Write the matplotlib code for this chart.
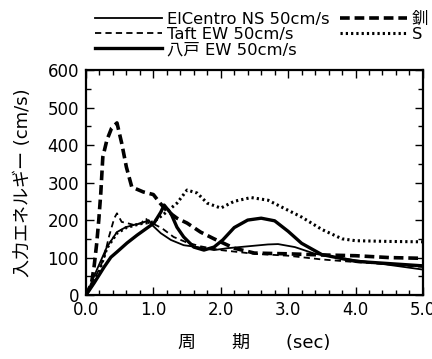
import numpy as np
import matplotlib
matplotlib.use('Agg')
import matplotlib.pyplot as plt
from matplotlib.ticker import MultipleLocator, FormatStrFormatter

plt.rcParams['font.family'] = ['DejaVu Sans', 'Noto Sans CJK JP']
plt.rcParams['lines.scale_dashes'] = False

# ElCentro NS 50cm/s (thin solid)
t_elc = [0.0, 0.05, 0.16, 0.31, 0.46, 0.59, 0.71, 0.83, 0.93, 0.98, 1.11, 1.26, 1.45, 1.65,
         1.9, 2.1, 2.4, 2.7, 2.85, 3.1, 3.4, 3.8, 4.2, 4.6, 5.0]
v_elc = [0, 20, 67, 128, 168, 181, 187, 192, 200, 187, 165, 147, 133, 128,
         120, 125, 130, 135, 136, 128, 110, 98, 88, 78, 68]

# Taft EW 50cm/s (thin dashed)
t_taft = [0.0, 0.1, 0.2, 0.27, 0.34, 0.42, 0.46, 0.53, 0.61, 0.71, 0.82, 0.89, 0.93, 1.0,
          1.13, 1.3, 1.5, 1.7, 2.0, 2.5, 3.0, 3.5, 4.0, 4.5, 5.0]
v_taft = [0, 35, 70, 101, 155, 205, 218, 195, 192, 187, 192, 205, 192, 190,
          178, 155, 140, 130, 120, 110, 105, 95, 88, 82, 75]

# 八戸 EW 50cm/s (thick solid)
t_hac = [0.0, 0.12, 0.27, 0.37, 0.46, 0.61, 0.76, 0.9, 1.01, 1.11, 1.16, 1.26, 1.35, 1.45,
         1.6, 1.75, 1.9, 2.03, 2.2, 2.4, 2.6, 2.8, 3.0, 3.2, 3.5, 4.0, 4.5, 5.0]
v_hac = [0, 32, 75, 101, 115, 139, 160, 178, 192, 221, 240, 218, 181, 155,
         128, 120, 128, 147, 180, 200, 205, 198, 170, 138, 108, 90, 84, 78]

# 釧路 (thick dashed)
t_kus = [0.0, 0.08, 0.12, 0.16, 0.19, 0.22, 0.25, 0.31, 0.38, 0.46, 0.53, 0.6, 0.68, 0.85,
         1.0, 1.1, 1.2, 1.35, 1.5, 1.7, 1.9, 2.2, 2.5, 3.0, 3.5, 4.0, 4.5, 5.0]
v_kus = [0, 30, 75, 139, 200, 272, 368, 413, 445, 459, 405, 341, 288, 275,
         268, 245, 225, 205, 192, 168, 150, 125, 112, 110, 107, 105, 100, 98]

# S... (dotted)
t_s = [0.0, 0.1, 0.2, 0.31, 0.46, 0.6, 0.8, 1.0, 1.15, 1.35, 1.5, 1.65, 1.8, 2.0,
       2.2, 2.45, 2.7, 2.9, 3.2, 3.5, 3.8, 4.0, 4.5, 5.0]
v_s = [0, 30, 65, 125, 165, 180, 190, 195, 215, 245, 280, 272, 245, 232,
       250, 260, 253, 235, 208, 175, 150, 145, 143, 142]

fig = plt.figure(figsize=(4.32, 3.59), dpi=100)
ax = fig.add_axes([0.199, 0.178, 0.78, 0.627])

ax.plot(t_elc, v_elc, color='black', lw=1.3, label='ElCentro NS 50cm/s')
ax.plot(t_taft, v_taft, color='black', lw=1.3, dashes=(4.5, 3), label='Taft EW 50cm/s')
ax.plot(t_hac, v_hac, color='black', lw=2.4, label='八戸 EW 50cm/s')
ax.plot(t_kus, v_kus, color='black', lw=2.6, dashes=(7, 3.5), label='釧')
ax.plot(t_s, v_s, color='black', lw=2.2, dashes=(1.6, 2.2), label='S')

ax.set_xlim(0, 5)
ax.set_ylim(0, 600)
ax.xaxis.set_major_locator(MultipleLocator(1))
ax.xaxis.set_minor_locator(MultipleLocator(0.2))
ax.yaxis.set_major_locator(MultipleLocator(100))
ax.yaxis.set_minor_locator(MultipleLocator(50))
ax.xaxis.set_major_formatter(FormatStrFormatter('%.1f'))
ax.tick_params(which='both', direction='in', top=True, right=True, labelsize=12, width=1.0)
ax.tick_params(which='major', length=6)
ax.tick_params(axis='x', which='major', pad=4)
ax.tick_params(axis='y', which='major', pad=5)
ax.tick_params(which='minor', length=3.5)
for s in ax.spines.values():
    s.set_linewidth(1.6)

ax.set_ylabel('入力エネルギー (cm/s)', fontsize=13, labelpad=11)
ax.set_xlabel('周　　期　　(sec)', fontsize=13, labelpad=11)

fig.legend(loc='upper left', bbox_to_anchor=(0.205, 0.985), ncol=2, frameon=False,
           fontsize=11.8, handlelength=4.1, handletextpad=0.3, columnspacing=0.6,
           labelspacing=0.0, borderaxespad=0)

fig.savefig('out.png', dpi=100)
